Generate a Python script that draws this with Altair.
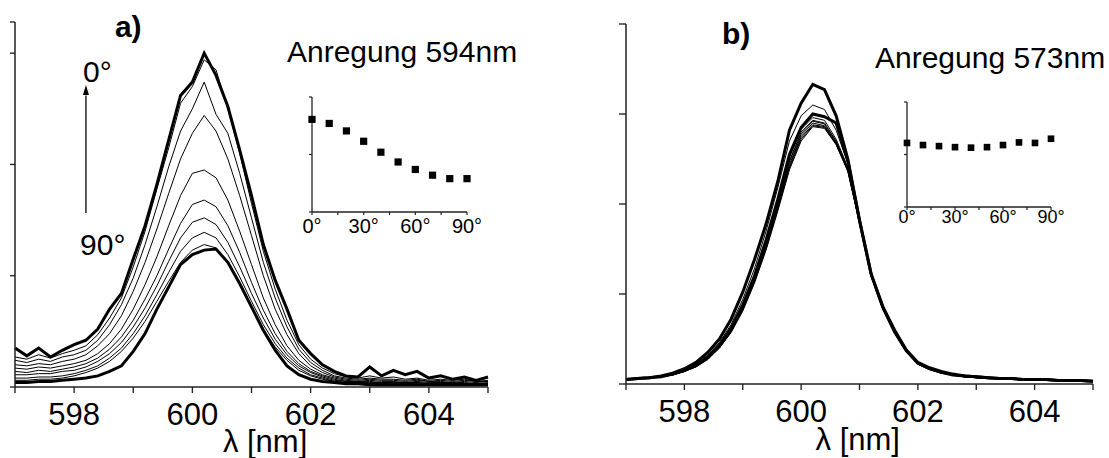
import altair as alt
import pandas as pd

# ---------------- data ----------------
WAVELENGTH = [597.0, 597.2, 597.4, 597.6, 597.8, 598.0, 598.2, 598.4, 598.6, 598.8,
              599.0, 599.2, 599.4, 599.6, 599.8, 600.0, 600.2, 600.4, 600.6, 600.8,
              601.0, 601.2, 601.4, 601.6, 601.8, 602.0, 602.2, 602.4, 602.6, 602.8,
              603.0, 603.2, 603.4, 603.6, 603.8, 604.0, 604.2, 604.4, 604.6, 604.8, 605.0]
ANGLES = [0, 10, 20, 30, 40, 50, 60, 70, 80, 90]
THICK_ANGLES = [0, 90]

A_0 = [0.35, 0.28, 0.35, 0.27, 0.33, 0.38, 0.42, 0.52, 0.70, 0.84,
       1.15, 1.45, 1.82, 2.22, 2.62, 2.74, 3.00, 2.80, 2.52, 2.13,
       1.72, 1.28, 0.96, 0.70, 0.42, 0.30, 0.20, 0.14, 0.10, 0.09,
       0.18, 0.10, 0.15, 0.11, 0.14, 0.08, 0.10, 0.07, 0.09, 0.06, 0.09]
A_10 = [0.27, 0.25, 0.29, 0.26, 0.30, 0.33, 0.37, 0.47, 0.62, 0.80,
        1.08, 1.40, 1.78, 2.15, 2.55, 2.70, 2.94, 2.85, 2.50, 2.10,
        1.65, 1.22, 0.88, 0.60, 0.38, 0.25, 0.17, 0.12, 0.09, 0.08,
        0.10, 0.08, 0.09, 0.07, 0.08, 0.06, 0.07, 0.06, 0.07, 0.05, 0.06]
A_20 = [0.24, 0.22, 0.25, 0.23, 0.27, 0.29, 0.33, 0.42, 0.56, 0.74,
        0.98, 1.28, 1.62, 1.98, 2.30, 2.50, 2.74, 2.45, 2.28, 1.92,
        1.52, 1.12, 0.80, 0.54, 0.34, 0.22, 0.15, 0.10, 0.08, 0.07,
        0.08, 0.07, 0.07, 0.06, 0.07, 0.05, 0.06, 0.05, 0.06, 0.05, 0.05]
A_30 = [0.20, 0.19, 0.21, 0.20, 0.23, 0.25, 0.29, 0.37, 0.48, 0.64,
        0.86, 1.12, 1.42, 1.74, 2.05, 2.28, 2.44, 2.30, 2.05, 1.72,
        1.36, 1.00, 0.70, 0.47, 0.30, 0.19, 0.13, 0.09, 0.07, 0.06,
        0.07, 0.06, 0.06, 0.05, 0.06, 0.05, 0.05, 0.04, 0.05, 0.04, 0.05]
A_40 = [0.17, 0.16, 0.18, 0.17, 0.19, 0.21, 0.24, 0.30, 0.39, 0.52,
        0.70, 0.92, 1.17, 1.45, 1.72, 1.92, 1.95, 1.88, 1.68, 1.40,
        1.10, 0.80, 0.56, 0.37, 0.24, 0.16, 0.11, 0.08, 0.06, 0.05,
        0.06, 0.05, 0.05, 0.04, 0.05, 0.04, 0.04, 0.04, 0.04, 0.03, 0.04]
A_50 = [0.14, 0.13, 0.15, 0.14, 0.16, 0.18, 0.21, 0.26, 0.34, 0.45,
        0.60, 0.79, 1.00, 1.24, 1.47, 1.64, 1.68, 1.62, 1.45, 1.21,
        0.94, 0.69, 0.48, 0.32, 0.21, 0.14, 0.10, 0.07, 0.05, 0.05,
        0.05, 0.04, 0.04, 0.04, 0.04, 0.03, 0.04, 0.03, 0.03, 0.03, 0.03]
A_60 = [0.11, 0.11, 0.12, 0.12, 0.14, 0.15, 0.18, 0.23, 0.30, 0.40,
        0.54, 0.71, 0.91, 1.13, 1.34, 1.48, 1.52, 1.46, 1.30, 1.08,
        0.84, 0.62, 0.43, 0.29, 0.19, 0.13, 0.09, 0.06, 0.05, 0.04,
        0.04, 0.04, 0.04, 0.03, 0.04, 0.03, 0.03, 0.03, 0.03, 0.03, 0.03]
A_70 = [0.08, 0.08, 0.09, 0.09, 0.10, 0.12, 0.15, 0.19, 0.26, 0.35,
        0.48, 0.64, 0.83, 1.03, 1.22, 1.34, 1.39, 1.34, 1.19, 0.99,
        0.77, 0.56, 0.39, 0.26, 0.17, 0.11, 0.08, 0.05, 0.04, 0.04,
        0.03, 0.03, 0.03, 0.03, 0.03, 0.02, 0.03, 0.02, 0.02, 0.02, 0.02]
A_80 = [0.06, 0.06, 0.07, 0.07, 0.08, 0.10, 0.13, 0.17, 0.23, 0.32,
        0.44, 0.59, 0.77, 0.95, 1.12, 1.23, 1.28, 1.25, 1.11, 0.92,
        0.71, 0.52, 0.36, 0.24, 0.15, 0.10, 0.07, 0.05, 0.04, 0.03,
        0.03, 0.03, 0.02, 0.02, 0.02, 0.02, 0.02, 0.02, 0.02, 0.02, 0.02]
A_90 = [0.04, 0.04, 0.05, 0.05, 0.06, 0.07, 0.08, 0.10, 0.14, 0.19,
        0.32, 0.48, 0.70, 0.90, 1.10, 1.19, 1.23, 1.24, 1.12, 0.93,
        0.72, 0.51, 0.33, 0.19, 0.11, 0.07, 0.05, 0.04, 0.03, 0.03,
        0.02, 0.02, 0.02, 0.02, 0.02, 0.02, 0.02, 0.02, 0.02, 0.02, 0.02]

B_0 = [0.05, 0.06, 0.07, 0.08, 0.11, 0.15, 0.21, 0.30, 0.43, 0.62,
       0.88, 1.20, 1.60, 2.05, 2.55, 2.85, 3.00, 2.97, 2.90, 2.48,
       1.82, 1.22, 0.85, 0.58, 0.37, 0.23, 0.17, 0.13, 0.10, 0.09,
       0.08, 0.07, 0.06, 0.06, 0.05, 0.05, 0.05, 0.04, 0.04, 0.04, 0.03]
B_10 = [0.05, 0.06, 0.07, 0.08, 0.11, 0.15, 0.20, 0.29, 0.42, 0.60,
        0.86, 1.17, 1.56, 2.00, 2.48, 2.80, 2.93, 2.90, 2.70, 2.40,
        1.80, 1.21, 0.84, 0.58, 0.37, 0.23, 0.17, 0.13, 0.10, 0.09,
        0.07, 0.07, 0.06, 0.05, 0.05, 0.05, 0.04, 0.04, 0.04, 0.04, 0.03]
B_20 = [0.05, 0.06, 0.07, 0.08, 0.11, 0.14, 0.20, 0.28, 0.41, 0.59,
        0.84, 1.15, 1.53, 1.97, 2.44, 2.76, 2.90, 2.87, 2.68, 2.38,
        1.80, 1.20, 0.84, 0.57, 0.36, 0.23, 0.17, 0.13, 0.10, 0.08,
        0.07, 0.07, 0.06, 0.05, 0.05, 0.05, 0.04, 0.04, 0.04, 0.03, 0.03]
B_30 = [0.05, 0.06, 0.07, 0.08, 0.10, 0.14, 0.19, 0.28, 0.40, 0.58,
        0.82, 1.13, 1.50, 1.94, 2.40, 2.72, 2.87, 2.85, 2.66, 2.37,
        1.79, 1.20, 0.83, 0.57, 0.36, 0.22, 0.16, 0.12, 0.10, 0.08,
        0.07, 0.06, 0.06, 0.05, 0.05, 0.04, 0.04, 0.04, 0.04, 0.03, 0.03]
B_40 = [0.05, 0.06, 0.07, 0.08, 0.10, 0.14, 0.19, 0.27, 0.40, 0.57,
        0.81, 1.12, 1.49, 1.92, 2.38, 2.70, 2.86, 2.84, 2.66, 2.36,
        1.79, 1.20, 0.83, 0.57, 0.36, 0.22, 0.16, 0.12, 0.10, 0.08,
        0.07, 0.06, 0.06, 0.05, 0.05, 0.04, 0.04, 0.04, 0.04, 0.03, 0.03]
B_50 = [0.05, 0.06, 0.07, 0.08, 0.10, 0.14, 0.20, 0.28, 0.40, 0.58,
        0.83, 1.14, 1.52, 1.95, 2.42, 2.74, 2.88, 2.86, 2.67, 2.37,
        1.80, 1.21, 0.84, 0.57, 0.36, 0.23, 0.17, 0.13, 0.10, 0.08,
        0.07, 0.07, 0.06, 0.05, 0.05, 0.05, 0.04, 0.04, 0.04, 0.03, 0.03]
B_60 = [0.05, 0.06, 0.07, 0.08, 0.11, 0.15, 0.20, 0.29, 0.42, 0.60,
        0.85, 1.16, 1.55, 1.99, 2.47, 2.78, 2.92, 2.89, 2.69, 2.39,
        1.80, 1.21, 0.84, 0.58, 0.37, 0.23, 0.17, 0.13, 0.10, 0.09,
        0.07, 0.07, 0.06, 0.05, 0.05, 0.05, 0.04, 0.04, 0.04, 0.04, 0.03]
B_70 = [0.05, 0.06, 0.07, 0.09, 0.11, 0.16, 0.22, 0.32, 0.46, 0.66,
        0.94, 1.28, 1.70, 2.18, 2.70, 2.98, 3.10, 3.05, 2.82, 2.45,
        1.81, 1.22, 0.85, 0.59, 0.38, 0.24, 0.18, 0.14, 0.11, 0.09,
        0.08, 0.07, 0.06, 0.06, 0.05, 0.05, 0.05, 0.04, 0.04, 0.04, 0.03]
B_80 = [0.05, 0.06, 0.07, 0.08, 0.11, 0.15, 0.21, 0.30, 0.43, 0.62,
        0.87, 1.19, 1.58, 2.03, 2.52, 2.83, 2.96, 2.93, 2.72, 2.41,
        1.81, 1.21, 0.84, 0.58, 0.37, 0.23, 0.17, 0.13, 0.10, 0.09,
        0.08, 0.07, 0.06, 0.06, 0.05, 0.05, 0.04, 0.04, 0.04, 0.04, 0.03]
B_90 = [0.05, 0.06, 0.07, 0.09, 0.12, 0.17, 0.24, 0.35, 0.50, 0.72,
        1.02, 1.38, 1.78, 2.25, 2.82, 3.12, 3.33, 3.27, 2.98, 2.50,
        1.82, 1.22, 0.86, 0.60, 0.38, 0.24, 0.18, 0.14, 0.11, 0.09,
        0.08, 0.07, 0.06, 0.06, 0.05, 0.05, 0.05, 0.04, 0.04, 0.04, 0.03]

SPEC_A = [A_0, A_10, A_20, A_30, A_40, A_50, A_60, A_70, A_80, A_90]
SPEC_B = [B_0, B_10, B_20, B_30, B_40, B_50, B_60, B_70, B_80, B_90]
for s in SPEC_A + SPEC_B:
    assert len(s) == len(WAVELENGTH), len(s)

INSET_A = [1.61, 1.54, 1.41, 1.23, 1.04, 0.87, 0.74, 0.64, 0.58, 0.58]
INSET_B = [1.22, 1.18, 1.16, 1.14, 1.13, 1.14, 1.18, 1.23, 1.22, 1.30]

X_TICKS = [597, 598, 599, 600, 601, 602, 603, 604, 605]
X_LABELS = [598, 600, 602, 604]
A_YTICKS = [0, 1, 2, 3, 3.28]
B_YTICKS = [0, 1, 2, 3, 4]
INSET_XTICKS = [0, 15, 30, 45, 60, 75, 90]
INSET_XLABELS = [0, 30, 60, 90]
INSET_YTICKS = [0, 1, 2]
AXIS_TITLE = "λ [nm]"

FONT = "Liberation Sans"
INK = "#000000"
AXC = "#222222"

# ---------------- scales (pixel ranges of each plot area) ----------------
AX = alt.Scale(domain=[597, 605], range=[15, 488], nice=False, zero=False)
AY = alt.Scale(domain=[0, 3.28], range=[387, 22], nice=False, zero=False)
BX = alt.Scale(domain=[597, 605], range=[626, 1093], nice=False, zero=False)
BY = alt.Scale(domain=[0, 4], range=[384, 24], nice=False, zero=False)
IAX = alt.Scale(domain=[0, 90], range=[312, 467], nice=False, zero=False)
IAY = alt.Scale(domain=[0, 2], range=[212, 97], nice=False, zero=False)
IBX = alt.Scale(domain=[0, 90], range=[907, 1051], nice=False, zero=False)
IBY = alt.Scale(domain=[0, 2], range=[207, 102], nice=False, zero=False)


def spectra_df(spec):
    rows = []
    for ang, ys in zip(ANGLES, spec):
        for w, v in zip(WAVELENGTH, ys):
            rows.append({"wl": w, "val": v, "angle": ang,
                         "thick": ang in THICK_ANGLES})
    return pd.DataFrame(rows)


def enc_x(field, sc):
    return alt.X(field, type="quantitative", scale=sc, axis=None)


def enc_y(field, sc):
    return alt.Y(field, type="quantitative", scale=sc, axis=None)


def axes_layers(xs, ys, xmin, xmax, ymax, xticks, yticks, xlabels, xlab_fmt,
                xtick_len, ytick_len, label_size, label_dy, width=1.5):
    layers = []
    layers.append(alt.Chart(pd.DataFrame({"a": [xmin], "b": [xmax], "y": [0]}))
                  .mark_rule(color=AXC, strokeWidth=width)
                  .encode(x=enc_x("a", xs), x2=alt.X2("b"), y=enc_y("y", ys)))
    layers.append(alt.Chart(pd.DataFrame({"x": [xmin], "a": [0], "b": [ymax]}))
                  .mark_rule(color=AXC, strokeWidth=width)
                  .encode(x=enc_x("x", xs), y=enc_y("a", ys), y2=alt.Y2("b")))
    layers.append(alt.Chart(pd.DataFrame({"t": xticks, "y": [0] * len(xticks)}))
                  .mark_rule(color=AXC, strokeWidth=width * 0.9, y2Offset=xtick_len)
                  .encode(x=enc_x("t", xs), y=enc_y("y", ys), y2=alt.Y2("y")))
    layers.append(alt.Chart(pd.DataFrame({"t": yticks, "x": [xmin] * len(yticks)}))
                  .mark_rule(color=AXC, strokeWidth=width * 0.9, x2Offset=-ytick_len)
                  .encode(y=enc_y("t", ys), x=enc_x("x", xs), x2=alt.X2("x")))
    layers.append(alt.Chart(pd.DataFrame({"t": xlabels, "y": [0] * len(xlabels),
                                          "lab": [xlab_fmt.format(v) for v in xlabels]}))
                  .mark_text(font=FONT, fontSize=label_size, color=INK, align="center",
                             baseline="alphabetic", dy=label_dy)
                  .encode(x=enc_x("t", xs), y=enc_y("y", ys), text="lab:N"))
    return layers


def spectra_layers(spec, xs, ys):
    df = spectra_df(spec)
    thin = (alt.Chart(df).transform_filter("!datum.thick")
            .mark_line(color=INK, strokeWidth=1)
            .encode(x=enc_x("wl", xs), y=enc_y("val", ys), detail="angle:N",
                    order="wl:Q"))
    thick = (alt.Chart(df).transform_filter("datum.thick")
             .mark_line(color=INK, strokeWidth=3)
             .encode(x=enc_x("wl", xs), y=enc_y("val", ys), detail="angle:N",
                     order="wl:Q"))
    return [thin, thick]


def text_layer(rows, xs, ys, size, weight="normal", align="left", dy=0):
    return (alt.Chart(pd.DataFrame(rows))
            .mark_text(font=FONT, fontSize=size, fontWeight=weight, color=INK,
                       align=align, baseline="alphabetic", dy=dy)
            .encode(x=enc_x("x", xs), y=enc_y("y", ys), text="t:N"))


def inset_layers(vals, xs, ys, label_size, label_dy, sq):
    layers = axes_layers(xs, ys, 0, 90, 2, INSET_XTICKS, INSET_YTICKS,
                         INSET_XLABELS, "{}°", 3, 3, label_size, label_dy, width=1.3)
    layers.append(alt.Chart(pd.DataFrame({"ang": ANGLES, "v": vals}))
                  .mark_square(color=INK, filled=True, opacity=1, size=sq)
                  .encode(x=enc_x("ang", xs), y=enc_y("v", ys)))
    return layers


layers = []
# ---- panel a ----
layers += spectra_layers(SPEC_A, AX, AY)
layers += axes_layers(AX, AY, 597, 605, 3.28, X_TICKS, A_YTICKS, X_LABELS, "{}",
                      6, 5, 31, 38)
layers.append(text_layer([{"x": 601.23, "y": 0, "t": AXIS_TITLE}], AX, AY, 31,
                         align="center", dy=65))
layers.append(text_layer([{"x": 598.69, "y": 3.145, "t": "a)"}], AX, AY, 30, weight="bold"))
layers.append(text_layer([{"x": 601.6, "y": 2.92, "t": "Anregung 594nm"},
                          {"x": 598.15, "y": 2.74, "t": "0°"},
                          {"x": 598.10, "y": 1.186, "t": "90°"}], AX, AY, 30))
layers.append(alt.Chart(pd.DataFrame({"x": [598.2], "a": [1.564], "b": [2.62]}))
              .mark_rule(color=INK, strokeWidth=1.3)
              .encode(x=enc_x("x", AX), y=enc_y("a", AY), y2=alt.Y2("b")))
layers.append(alt.Chart(pd.DataFrame({"x": [598.2], "y": [2.67]}))
              .mark_point(shape="M0,-1L0.6,1L-0.6,1Z", filled=True, opacity=1,
                          color=INK, size=100)
              .encode(x=enc_x("x", AX), y=enc_y("y", AY)))
layers += inset_layers(INSET_A, IAX, IAY, 20, 21, 52)

# ---- panel b ----
layers += spectra_layers(SPEC_B, BX, BY)
layers += axes_layers(BX, BY, 597, 605, 4, X_TICKS, B_YTICKS, X_LABELS, "{}",
                      6, 7, 31, 38)
layers.append(text_layer([{"x": 600.97, "y": 0, "t": AXIS_TITLE}], BX, BY, 31,
                         align="center", dy=66))
layers.append(text_layer([{"x": 598.645, "y": 3.778, "t": "b)"}], BX, BY, 30, weight="bold"))
layers.append(text_layer([{"x": 601.265, "y": 3.511, "t": "Anregung 573nm"}], BX, BY, 30))
layers += inset_layers(INSET_B, IBX, IBY, 18, 16, 44)

chart = (alt.layer(*layers)
         .resolve_scale(x="independent", y="independent")
         .properties(width=1109, height=458, padding=0, background="white",
                     autosize=alt.AutoSizeParams(type="none"))
         .configure_view(stroke=None))

chart.save("out.html", embed_options={"renderer": "svg", "actions": False})
